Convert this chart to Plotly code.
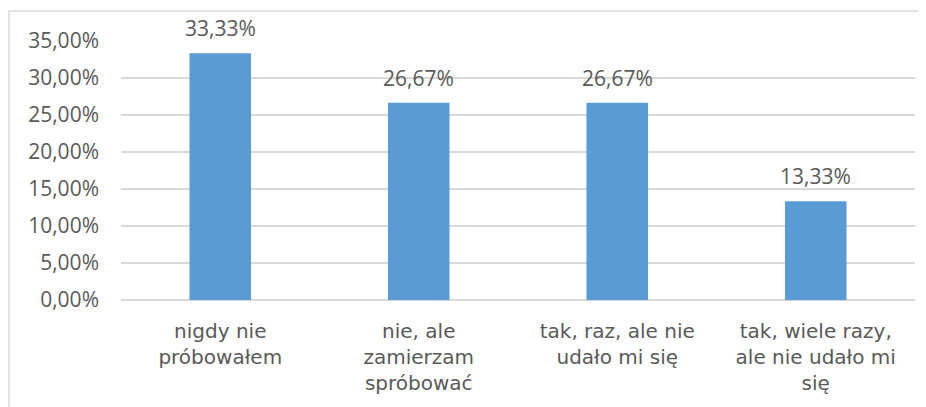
import plotly.graph_objects as go

CATEGORIES = ['nigdy nie<br>próbowałem', 'nie, ale<br>zamierzam<br>spróbować',
              'tak, raz, ale nie<br>udało mi się', 'tak, wiele razy,<br>ale nie udało mi<br>się']
VALUES = [33.33, 26.67, 26.67, 13.33]
Y_TICKS = [0, 5, 10, 15, 20, 25, 30, 35]
Y_TICK_LABELS = ['0,00%', '5,00%', '10,00%', '15,00%', '20,00%', '25,00%', '30,00%', '35,00%']

BAR_COLOR = '#5B9BD5'
TEXT_COLOR = '#595959'
GRID_COLOR = '#D9D9D9'
FONT = 'Open Sans'
CAT_FONT = 'DejaVu Sans'
FS = 21

fig = go.Figure(go.Bar(x=CATEGORIES, y=VALUES, marker=dict(color=BAR_COLOR, line=dict(width=0)),
                       width=0.31))

for cat, val in zip(CATEGORIES, VALUES):
    fig.add_annotation(x=cat, y=val, text=f'{val:.2f}%'.replace('.', ','),
                       showarrow=False, yanchor='bottom', yshift=9,
                       font=dict(family=FONT, size=FS, color=TEXT_COLOR))

# chart frame (page has an 8px body margin, figure is shifted by it)
W, H = 918, 399
L, R, T, B = 113, 11, 33, 107
pw, ph = W - L - R, H - T - B
fig.add_shape(type='rect', xref='paper', yref='paper',
              x0=(1 - L) / pw, x1=(917 - L) / pw,
              y0=-2, y1=1 + (T - 3) / ph,
              line=dict(color=GRID_COLOR, width=1.5), layer='below')

fig.update_layout(
    width=W, height=H, template='plotly_white',
    paper_bgcolor='white', plot_bgcolor='white',
    margin=dict(l=L, r=R, t=T, b=B),
    font=dict(family=FONT, size=FS, color=TEXT_COLOR),
    showlegend=False,
    xaxis=dict(showgrid=False, showline=False, ticks='',
               tickfont=dict(family=CAT_FONT, size=20), ticklabelstandoff=17),
    yaxis=dict(range=[0, 35], tickvals=Y_TICKS, ticktext=Y_TICK_LABELS,
               showgrid=True, gridcolor=GRID_COLOR, gridwidth=1.5,
               zeroline=True, zerolinecolor=GRID_COLOR, zerolinewidth=1.5,
               showline=False, ticks='', ticklabelstandoff=21, tickfont=dict(size=FS)),
)

fig.write_html('out.html')
